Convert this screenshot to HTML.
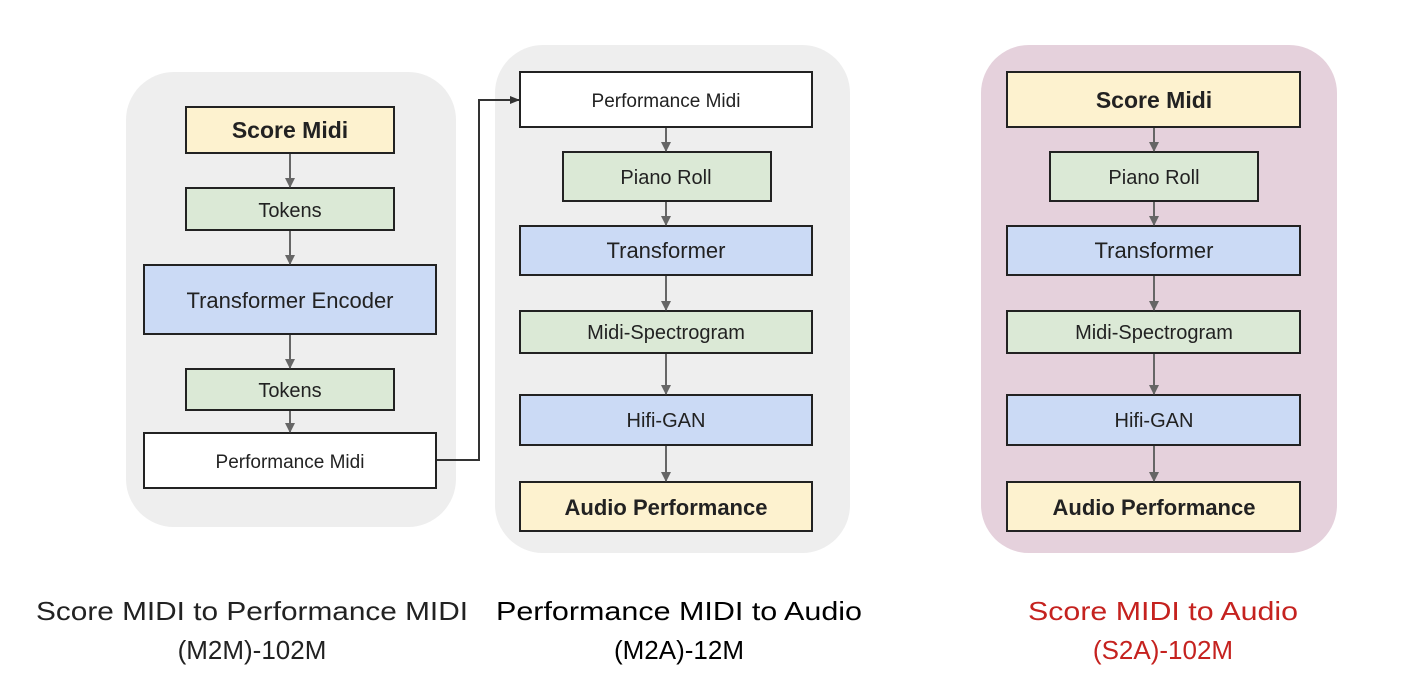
<!DOCTYPE html>
<html><head><meta charset="utf-8"><style>html,body{margin:0;padding:0;background:#fff}svg{display:block}</style></head>
<body>
<svg width="1428" height="686" viewBox="0 0 1428 686" xmlns="http://www.w3.org/2000/svg" font-family="Liberation Sans, sans-serif">
<defs><marker id="a" markerWidth="10" markerHeight="10" refX="9" refY="5" orient="auto" markerUnits="userSpaceOnUse"><path d="M0,0 L10,5 L0,10 z" fill="#666"/></marker>
<marker id="b" markerWidth="10" markerHeight="10" refX="9" refY="5" orient="auto" markerUnits="userSpaceOnUse"><path d="M0,1 L10,5 L0,9 z" fill="#333"/></marker></defs>
<rect x="126" y="72" width="330" height="455" rx="48" fill="#eeeeee"/>
<rect x="495" y="45" width="355" height="508" rx="48" fill="#eeeeee"/>
<rect x="981" y="45" width="356" height="508" rx="48" fill="#e5d1dc"/>
<g stroke="#222" stroke-width="2">
<rect x="186" y="107" width="208" height="46" fill="#fdf2cf"/>
<rect x="186" y="188" width="208" height="42" fill="#dbe9d6"/>
<rect x="144" y="265" width="292" height="69" fill="#cbdaf5"/>
<rect x="186" y="369" width="208" height="41" fill="#dbe9d6"/>
<rect x="144" y="433" width="292" height="55" fill="#fff"/>
<rect x="520" y="72" width="292" height="55" fill="#fff"/>
<rect x="563" y="152" width="208" height="49" fill="#dbe9d6"/>
<rect x="520" y="226" width="292" height="49" fill="#cbdaf5"/>
<rect x="520" y="311" width="292" height="42" fill="#dbe9d6"/>
<rect x="520" y="395" width="292" height="50" fill="#cbdaf5"/>
<rect x="520" y="482" width="292" height="49" fill="#fdf2cf"/>
<rect x="1007" y="72" width="293" height="55" fill="#fdf2cf"/>
<rect x="1050" y="152" width="208" height="49" fill="#dbe9d6"/>
<rect x="1007" y="226" width="293" height="49" fill="#cbdaf5"/>
<rect x="1007" y="311" width="293" height="42" fill="#dbe9d6"/>
<rect x="1007" y="395" width="293" height="50" fill="#cbdaf5"/>
<rect x="1007" y="482" width="293" height="49" fill="#fdf2cf"/>
</g>
<g stroke="#666" stroke-width="2" marker-end="url(#a)">
<line x1="290" y1="154" x2="290" y2="187"/>
<line x1="290" y1="231" x2="290" y2="264"/>
<line x1="290" y1="335" x2="290" y2="368"/>
<line x1="290" y1="411" x2="290" y2="432"/>
<line x1="666" y1="128" x2="666" y2="151"/>
<line x1="666" y1="202" x2="666" y2="225"/>
<line x1="666" y1="276" x2="666" y2="310"/>
<line x1="666" y1="354" x2="666" y2="394"/>
<line x1="666" y1="446" x2="666" y2="481"/>
<line x1="1154" y1="128" x2="1154" y2="151"/>
<line x1="1154" y1="202" x2="1154" y2="225"/>
<line x1="1154" y1="276" x2="1154" y2="310"/>
<line x1="1154" y1="354" x2="1154" y2="394"/>
<line x1="1154" y1="446" x2="1154" y2="481"/>
</g>
<polyline points="437,460 479,460 479,100 519,100" fill="none" stroke="#333" stroke-width="2" marker-end="url(#b)"/>
<g fill="#222" text-anchor="middle" font-size="20">
<text x="290" y="138" font-weight="bold" font-size="23">Score Midi</text>
<text x="290" y="217">Tokens</text>
<text x="290" y="308" font-size="22">Transformer Encoder</text>
<text x="290" y="397">Tokens</text>
<text x="290" y="468" font-size="19">Performance Midi</text>
<text x="666" y="107" font-size="19">Performance Midi</text>
<text x="666" y="184">Piano Roll</text>
<text x="666" y="258" font-size="22">Transformer</text>
<text x="666" y="339">Midi-Spectrogram</text>
<text x="666" y="427">Hifi-GAN</text>
<text x="666" y="515" font-weight="bold" font-size="22">Audio Performance</text>
<text x="1154" y="108" font-weight="bold" font-size="23">Score Midi</text>
<text x="1154" y="184">Piano Roll</text>
<text x="1154" y="258" font-size="22">Transformer</text>
<text x="1154" y="339">Midi-Spectrogram</text>
<text x="1154" y="427">Hifi-GAN</text>
<text x="1154" y="515" font-weight="bold" font-size="22">Audio Performance</text>
</g>
<g text-anchor="middle" font-size="26" fill="#222">
<text x="252" y="620" textLength="432" lengthAdjust="spacingAndGlyphs">Score MIDI to Performance MIDI</text>
<text x="252" y="659">(M2M)-102M</text>
<text x="679" y="620" fill="#000" textLength="366" lengthAdjust="spacingAndGlyphs">Performance MIDI to Audio</text>
<text x="679" y="659" fill="#000">(M2A)-12M</text>
<text x="1163" y="620" fill="#c5221f" textLength="270" lengthAdjust="spacingAndGlyphs">Score MIDI to Audio</text>
<text x="1163" y="659" fill="#c5221f">(S2A)-102M</text>
</g>
</svg>
</body></html>
